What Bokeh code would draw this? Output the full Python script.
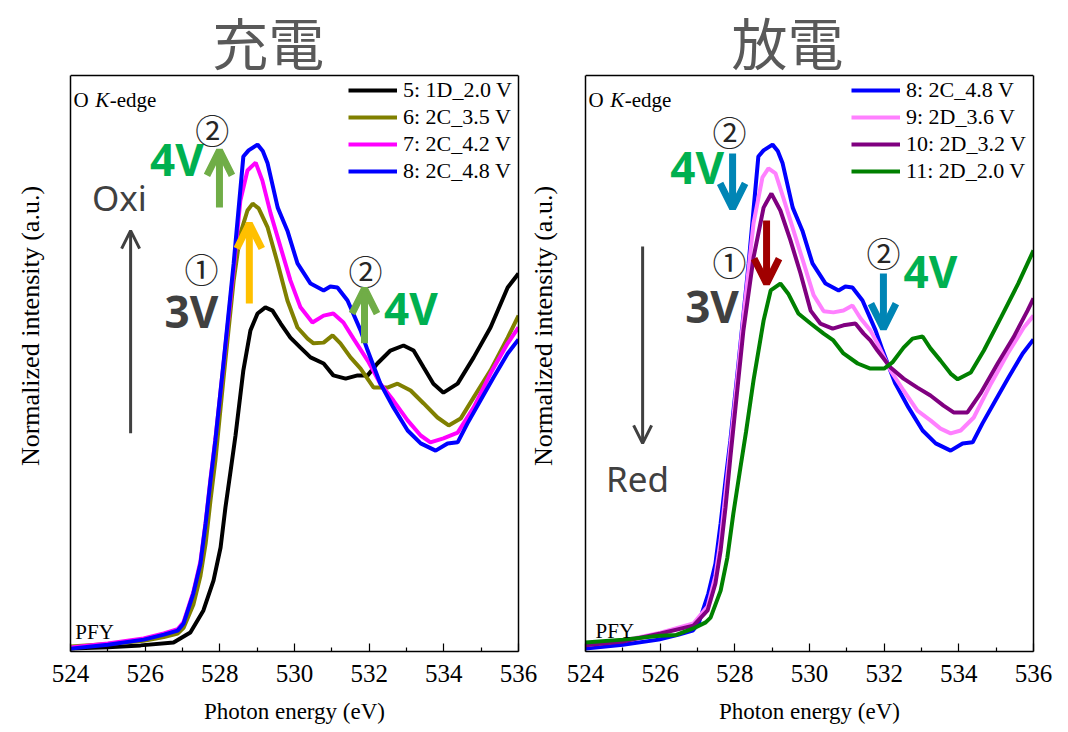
import math
from bokeh.plotting import figure
from bokeh.layouts import row
from bokeh.models import Range1d, FixedTicker, Label, Arrow, OpenHead, LinearAxis, Span
from bokeh.embed import file_html
from bokeh.resources import INLINE

# ---------------- data (photon energy in eV, normalized intensity in a.u.) ----------------
energy_5 = [524.00, 525.00, 525.88, 526.76, 527.21, 527.56, 527.83, 528.02, 528.15, 528.29, 528.42, 528.63,
            528.82, 529.01, 529.22, 529.41, 529.63, 529.89, 530.16, 530.43, 530.78, 531.04, 531.37, 531.69,
            531.96, 532.22, 532.57, 532.92, 533.19, 533.46, 533.72, 533.99, 534.37, 534.80, 535.25, 535.71, 536.00]
int_5 = [0.008, 0.012, 0.017, 0.025, 0.053, 0.114, 0.197, 0.289, 0.400, 0.503, 0.600, 0.781,
         0.892, 0.939, 0.956, 0.947, 0.911, 0.872, 0.844, 0.817, 0.800, 0.767, 0.758, 0.767,
         0.767, 0.800, 0.836, 0.850, 0.836, 0.789, 0.744, 0.719, 0.744, 0.817, 0.900, 1.011, 1.050]

energy_6 = [524.00, 525.00, 525.96, 526.50, 526.87, 527.03, 527.29, 527.48, 527.62, 527.75, 527.88, 528.10,
            528.37, 528.55, 528.74, 528.88, 529.04, 529.28, 529.55, 529.81, 530.08, 530.35, 530.51, 530.78,
            531.02, 531.23, 531.50, 531.77, 532.12, 532.49, 532.76, 533.11, 533.46, 533.83, 534.13, 534.45,
            534.80, 535.25, 535.71, 536.00]
int_6 = [0.014, 0.021, 0.030, 0.040, 0.050, 0.066, 0.130, 0.210, 0.300, 0.420, 0.530, 0.760,
         1.030, 1.161, 1.225, 1.244, 1.231, 1.178, 1.078, 0.975, 0.900, 0.869, 0.856, 0.858,
         0.878, 0.856, 0.817, 0.786, 0.733, 0.733, 0.744, 0.725, 0.689, 0.650, 0.628, 0.647,
         0.706, 0.781, 0.872, 0.933]

energy_7 = [524.00, 525.00, 525.96, 526.50, 526.87, 527.03, 527.29, 527.48, 527.62, 527.75, 527.88, 528.10,
            528.37, 528.55, 528.74, 528.96, 529.14, 529.36, 529.63, 529.89, 530.16, 530.48, 530.78, 531.04,
            531.31, 531.58, 531.96, 532.30, 532.65, 533.03, 533.38, 533.64, 533.99, 534.37, 534.80, 535.25,
            535.71, 536.00]
int_7 = [0.011, 0.022, 0.036, 0.050, 0.062, 0.082, 0.165, 0.250, 0.360, 0.480, 0.590, 0.800,
         1.060, 1.253, 1.336, 1.358, 1.308, 1.217, 1.122, 1.031, 0.956, 0.914, 0.933, 0.939,
         0.914, 0.869, 0.808, 0.744, 0.697, 0.642, 0.600, 0.581, 0.592, 0.608, 0.678, 0.772,
         0.856, 0.900]

energy_8 = [524.00, 525.00, 525.96, 526.50, 526.87, 527.03, 527.29, 527.48, 527.62, 527.75, 527.88, 528.10,
            528.37, 528.63, 528.77, 529.01, 529.15, 529.28, 529.55, 529.81, 530.08, 530.43, 530.78, 530.96,
            531.15, 531.42, 531.77, 531.96, 532.30, 532.65, 533.03, 533.38, 533.78, 534.10, 534.37, 534.63,
            534.98, 535.33, 535.71, 536.00]
int_8 = [0.008, 0.019, 0.033, 0.047, 0.058, 0.078, 0.161, 0.244, 0.356, 0.475, 0.586, 0.803,
         1.078, 1.375, 1.392, 1.408, 1.390, 1.356, 1.233, 1.169, 1.078, 1.022, 1.003, 1.014,
         1.011, 0.975, 0.892, 0.836, 0.744, 0.678, 0.614, 0.578, 0.558, 0.578, 0.581, 0.633,
         0.697, 0.761, 0.828, 0.867]

energy_9 = [524.00, 525.00, 526.01, 526.89, 527.27, 527.48, 527.62, 527.75, 527.88, 527.96, 528.23, 528.50,
            528.74, 528.90, 529.09, 529.30, 529.57, 529.84, 530.11, 530.38, 530.64, 530.91, 531.15, 531.37,
            531.63, 531.82, 532.17, 532.52, 532.89, 533.24, 533.51, 533.78, 534.05, 534.40, 534.86, 535.31,
            535.74, 536.00]
int_9 = [0.018, 0.030, 0.052, 0.078, 0.125, 0.210, 0.310, 0.440, 0.570, 0.650, 0.928, 1.189,
         1.317, 1.342, 1.328, 1.260, 1.170, 1.080, 0.990, 0.945, 0.942, 0.947, 0.961, 0.925,
         0.892, 0.856, 0.781, 0.725, 0.669, 0.642, 0.619, 0.606, 0.614, 0.650, 0.744, 0.828,
         0.900, 0.933]

energy_10 = [524.00, 525.00, 526.01, 526.89, 527.27, 527.48, 527.62, 527.75, 527.88, 528.23, 528.50, 528.77,
             528.98, 529.22, 529.49, 529.76, 530.03, 530.29, 530.62, 530.91, 531.23, 531.45, 531.63, 531.82,
             532.17, 532.52, 532.89, 533.24, 533.59, 533.86, 534.23, 534.58, 535.04, 535.46, 535.84, 536.00]
int_10 = [0.017, 0.028, 0.050, 0.072, 0.114, 0.189, 0.281, 0.400, 0.539, 0.892, 1.094, 1.233,
          1.272, 1.225, 1.142, 1.050, 0.947, 0.911, 0.897, 0.906, 0.911, 0.883, 0.864, 0.836,
          0.789, 0.758, 0.733, 0.711, 0.683, 0.664, 0.664, 0.717, 0.800, 0.872, 0.947, 0.981]

energy_11 = [524.00, 525.00, 526.00, 526.43, 526.89, 527.22, 527.35, 527.62, 527.80, 527.96, 528.15, 528.30,
             528.50, 528.77, 528.96, 529.22, 529.43, 529.70, 530.03, 530.38, 530.64, 530.91, 531.29, 531.63,
             532.00, 532.22, 532.52, 532.76, 533.03, 533.24, 533.51, 533.78, 533.97, 534.32, 534.67, 535.13,
             535.59, 536.00]
int_11 = [0.025, 0.033, 0.044, 0.046, 0.064, 0.081, 0.094, 0.169, 0.261, 0.383, 0.511, 0.610,
          0.753, 0.919, 1.003, 1.022, 0.994, 0.939, 0.911, 0.883, 0.864, 0.828, 0.800, 0.786,
          0.786, 0.803, 0.844, 0.869, 0.875, 0.842, 0.808, 0.772, 0.756, 0.775, 0.836, 0.928,
          1.022, 1.114]

labels_charge = ["5: 1D_2.0 V", "6: 2C_3.5 V", "7: 2C_4.2 V", "8: 2C_4.8 V"]
labels_discharge = ["8: 2C_4.8 V", "9: 2D_3.6 V", "10: 2D_3.2 V", "11: 2D_2.0 V"]
major_ticks = [524, 526, 528, 530, 532, 534, 536]
minor_ticks = [525, 527, 529, 531, 533, 535]
titles = ["充電", "放電"]
x_label = "Photon energy (eV)"
y_label = "Normalized intensity (a.u.)"

SERIF = "Liberation Serif"
SANS = "Noto Sans"
CJK = "Noto Sans CJK JP"
GRAY = "#404040"
GREEN_TXT = "#00B050"

Y_TOP = 1.6                 # top of the plotting box
Y_MAX = 651 / 360           # range extends above the box to host the titles
OVERLAP = 14                # right panel slides under the left panel's empty right border
L1, R1, L2 = 70, 20, 47 + OVERLAP
R2 = 1063 - (L1 + 448 + R1) + OVERLAP - (L2 + 448)
BOTTOM = 80


def blank_axis(ax, bounds, line=True):
    ax.ticker = FixedTicker(ticks=[])
    ax.bounds = bounds
    ax.axis_line_color = "black" if line else None
    ax.axis_line_width = 1.5
    ax.major_tick_in = 0
    ax.major_tick_out = 0
    ax.minor_tick_in = 0
    ax.minor_tick_out = 0
    ax.major_label_standoff = 0
    ax.major_label_text_font_size = "0px"


def make_fig(border_left, border_right, ylabel_standoff):
    p = figure(width=border_left + 448 + border_right, height=651 + BOTTOM,
               x_range=Range1d(524, 536), y_range=Range1d(0, Y_MAX),
               output_backend="svg", toolbar_location=None,
               min_border_left=border_left, min_border_right=border_right,
               min_border_top=0, min_border_bottom=BOTTOM)
    p.xgrid.visible = False
    p.ygrid.visible = False
    p.outline_line_color = None
    p.background_fill_color = "white"
    p.border_fill_color = "white"
    # x axis (bottom edge of the box)
    ax = p.xaxis[0]
    ax.ticker = FixedTicker(ticks=major_ticks, minor_ticks=minor_ticks)
    ax.axis_line_color = "black"
    ax.axis_line_width = 1.5
    ax.major_tick_in = 8
    ax.major_tick_out = 0
    ax.minor_tick_in = 4
    ax.minor_tick_out = 0
    ax.major_tick_line_color = "black"
    ax.minor_tick_line_color = "black"
    ax.major_tick_line_width = 1.2
    ax.minor_tick_line_width = 1.2
    ax.major_label_text_font = SERIF
    ax.major_label_text_font_size = "25px"
    ax.major_label_text_color = "black"
    ax.major_label_standoff = 13
    ax.axis_label = x_label
    ax.axis_label_text_font = SERIF
    ax.axis_label_text_font_size = "23px"
    ax.axis_label_text_font_style = "normal"
    ax.axis_label_text_color = "black"
    ax.axis_label_standoff = 14
    # left edge of the box
    blank_axis(p.yaxis[0], (0, Y_TOP))
    # y label axis
    ylab = LinearAxis()
    blank_axis(ylab, (0.13, Y_TOP), line=False)
    ylab.axis_label = y_label
    ylab.axis_label_text_font = SERIF
    ylab.axis_label_text_font_size = "26px"
    ylab.axis_label_text_font_style = "normal"
    ylab.axis_label_text_color = "black"
    ylab.axis_label_standoff = ylabel_standoff
    p.add_layout(ylab, "left")
    # right edge of the box
    redge = LinearAxis()
    blank_axis(redge, (0, Y_TOP))
    p.add_layout(redge, "right")
    # top edge of the box
    p.add_layout(Span(location=Y_TOP, dimension="width", line_color="black", line_width=1.5))
    return p


def txt(p, x, y, s, size, color, font, style="normal", align="center", baseline="middle", angle=0.0):
    p.add_layout(Label(x=x, y=y, text=s, text_font_size=f"{size}px", text_color=color,
                       text_font=font, text_font_style=style, text_align=align,
                       text_baseline=baseline, angle=angle))


def arrow(p, x, y0, y1, color, width, head):
    p.add_layout(Arrow(end=OpenHead(size=head, line_color=color, line_width=width),
                       x_start=x, y_start=y0, x_end=x, y_end=y1,
                       line_color=color, line_width=width))


def style_legend(p, loc):
    lg = p.legend[0]
    lg.location = loc
    lg.margin = 0
    lg.padding = 2
    lg.spacing = 1
    lg.glyph_width = 49
    lg.glyph_height = 20
    lg.label_height = 20
    lg.label_standoff = 6
    lg.label_text_font = SERIF
    lg.label_text_font_size = "22px"
    lg.label_text_color = "black"
    lg.border_line_alpha = 0
    lg.background_fill_alpha = 0


def common_text(p):
    txt(p, 524.08, 1.533, "O", 21, "black", SERIF, align="left", baseline="alphabetic")
    txt(p, 524.66, 1.533, "K", 21, "black", SERIF, style="italic", align="left", baseline="alphabetic")
    txt(p, 525.05, 1.533, "-edge", 21, "black", SERIF, align="left", baseline="alphabetic")


# ---------------- left panel: charge ----------------
p1 = make_fig(L1, R1, 26)
p1.line(energy_5, int_5, color="#000000", line_width=4, legend_label=labels_charge[0])
p1.line(energy_6, int_6, color="#808000", line_width=4, legend_label=labels_charge[1])
p1.line(energy_7, int_7, color="#FF00FF", line_width=4, legend_label=labels_charge[2])
p1.line(energy_8, int_8, color="#0000FF", line_width=4, legend_label=labels_charge[3])
style_legend(p1, (276, 465))
common_text(p1)
txt(p1, 524.13, 0.053, "PFY", 21, "black", SERIF, align="left", baseline="alphabetic")
txt(p1, 529.30, 1.697, titles[0], 56, "#595959", CJK, baseline="alphabetic")

txt(p1, 525.31, 1.261, "Oxi", 35, GRAY, SANS)
arrow(p1, 525.61, 0.606, 1.169, GRAY, 3, 18)
txt(p1, 527.51, 1.064, "①", 34, "#262626", CJK)
txt(p1, 527.24, 0.947, "3V", 44, GRAY, SANS, style="bold")
txt(p1, 526.85, 1.368, "4V", 44, GREEN_TXT, SANS, style="bold")
txt(p1, 527.80, 1.450, "②", 34, "#262626", CJK)
arrow(p1, 527.99, 1.233, 1.392, "#70AD47", 7, 25)
arrow(p1, 528.79, 0.967, 1.189, "#FFC000", 7, 25)
txt(p1, 531.90, 1.058, "②", 34, "#262626", CJK)
arrow(p1, 531.875, 0.856, 1.008, "#70AD47", 7, 25)
txt(p1, 533.12, 0.954, "4V", 44, GREEN_TXT, SANS, style="bold")

# ---------------- right panel: discharge ----------------
p2 = make_fig(L2, R2, 28)
p2.border_fill_alpha = 0
p2.styles = {"margin-left": f"-{OVERLAP}px"}
p2.line(energy_8, int_8, color="#0000FF", line_width=4, legend_label=labels_discharge[0])
p2.line(energy_9, int_9, color="#FF80FF", line_width=4, legend_label=labels_discharge[1])
p2.line(energy_10, int_10, color="#800080", line_width=4, legend_label=labels_discharge[2])
p2.line(energy_11, int_11, color="#008000", line_width=4, legend_label=labels_discharge[3])
style_legend(p2, (264, 465))
common_text(p2)
txt(p2, 524.27, 0.058, "PFY", 21, "black", SERIF, align="left", baseline="alphabetic")
txt(p2, 529.41, 1.697, titles[1], 56, "#595959", CJK, baseline="alphabetic")

txt(p2, 527.86, 1.444, "②", 34, "#262626", CJK)
txt(p2, 526.99, 1.346, "4V", 44, GREEN_TXT, SANS, style="bold")
arrow(p2, 527.94, 1.383, 1.231, "#0085B5", 7, 25)
arrow(p2, 528.85, 1.197, 1.022, "#A00000", 7, 25)
txt(p2, 527.86, 1.083, "①", 34, "#262626", CJK)
txt(p2, 527.39, 0.960, "3V", 44, GRAY, SANS, style="bold")
arrow(p2, 525.53, 1.125, 0.578, GRAY, 3, 18)
txt(p2, 525.39, 0.481, "Red", 35, GRAY, SANS)
txt(p2, 531.98, 1.108, "②", 34, "#262626", CJK)
arrow(p2, 531.98, 1.050, 0.897, "#0085B5", 7, 25)
txt(p2, 533.24, 1.057, "4V", 44, GREEN_TXT, SANS, style="bold")

layout = row(p1, p2)
open("out.html", "w").write(file_html(layout, INLINE))
